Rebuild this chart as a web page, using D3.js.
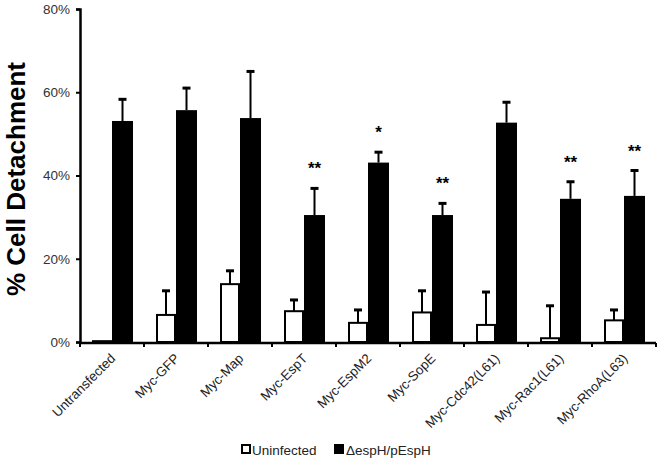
<!DOCTYPE html>
<html>
<head>
<meta charset="utf-8">
<script src="https://cdn.jsdelivr.net/npm/d3@7"></script>
<style>
  html, body { margin: 0; padding: 0; background: #fff; }
  svg { display: block; font-family: "Liberation Sans", Arial, sans-serif; }
</style>
</head>
<body>
<svg id="chart" width="666" height="463"></svg>
<script>
const categories = ["Untransfected", "Myc-GFP", "Myc-Map", "Myc-EspT", "Myc-EspM2", "Myc-SopE", "Myc-Cdc42(L61)", "Myc-Rac1(L61)", "Myc-RhoA(L63)"];
const uninfected = [0.2, 6.5, 13.9, 7.4, 4.6, 7.1, 4.1, 0.9, 5.2];
const uninfectedErr = [0, 5.8, 3.2, 2.7, 3.1, 5.2, 7.9, 7.8, 2.5];
const espH = [53.1, 55.7, 53.8, 30.5, 43.1, 30.5, 52.7, 34.4, 35.1];
const espHErr = [5.2, 5.3, 11.2, 6.4, 2.5, 2.8, 4.9, 4.1, 6.1];
const significance = ["", "", "", "**", "*", "**", "", "**", "**"];
const yTicks = [0, 20, 40, 60, 80];
const seriesNames = ["Uninfected", "\u0394espH/pEspH"];

const svg = d3.select("#chart");
const mLeft = 80, mRight = 656, mTop = 9, mBottom = 342;

const x = d3.scaleBand().domain(categories).range([mLeft, mRight]).padding(0);
const y = d3.scaleLinear().domain([0, 80]).range([mBottom, mTop]);

// Y axis
const yAxis = svg.append("g").attr("transform", `translate(${mLeft},0)`)
  .call(d3.axisLeft(y).tickValues(yTicks).tickFormat(d => d + "%").tickSize(4).tickPadding(6));
yAxis.select(".domain").attr("stroke", "#000").attr("stroke-width", 2.5);
yAxis.selectAll(".tick line").attr("stroke", "#000").attr("stroke-width", 2);
yAxis.selectAll(".tick text").attr("font-size", 13.5).attr("fill", "#333")
  .attr("font-family", "Liberation Sans, Arial, sans-serif");

// Y title
svg.append("text")
  .attr("transform", `translate(25,179) rotate(-90)`)
  .attr("text-anchor", "middle")
  .attr("font-size", 26).attr("font-weight", "bold").attr("fill", "#000")
  .text("% Cell Detachment");

const bw = 20;
const g = svg.append("g");
categories.forEach((c, i) => {
  const cx = x(c) + x.bandwidth() / 2;
  const wx = cx - bw / 2;
  if (uninfectedErr[i] > 0) {
    g.append("line").attr("x1", wx).attr("x2", wx)
      .attr("y1", y(uninfected[i])).attr("y2", y(uninfected[i] + uninfectedErr[i]))
      .attr("stroke", "#000").attr("stroke-width", 2);
    g.append("line").attr("x1", wx - 4).attr("x2", wx + 4)
      .attr("y1", y(uninfected[i] + uninfectedErr[i])).attr("y2", y(uninfected[i] + uninfectedErr[i]))
      .attr("stroke", "#000").attr("stroke-width", 3);
  }
  g.append("rect").attr("x", cx - bw + 1).attr("width", bw - 2)
    .attr("y", y(uninfected[i])).attr("height", y(0) - y(uninfected[i]))
    .attr("fill", "#fff").attr("stroke", "#000").attr("stroke-width", 2);
  const bx = cx + bw / 2 + 0.5;
  g.append("line").attr("x1", bx).attr("x2", bx)
    .attr("y1", y(espH[i])).attr("y2", y(espH[i] + espHErr[i]))
    .attr("stroke", "#000").attr("stroke-width", 2);
  g.append("line").attr("x1", bx - 4).attr("x2", bx + 4)
    .attr("y1", y(espH[i] + espHErr[i])).attr("y2", y(espH[i] + espHErr[i]))
    .attr("stroke", "#000").attr("stroke-width", 3);
  g.append("rect").attr("x", cx).attr("width", bw + 1)
    .attr("y", y(espH[i])).attr("height", y(0) - y(espH[i]))
    .attr("fill", "#000");
  if (significance[i]) {
    g.append("text").attr("x", bx).attr("y", y(espH[i] + espHErr[i]) - 14)
      .attr("text-anchor", "middle").attr("font-size", 17).attr("font-weight", "bold")
      .attr("fill", "#000").text(significance[i]);
  }
});

// X axis
const xAxis = svg.append("g").attr("transform", `translate(0,${mBottom + 1})`);
xAxis.append("line").attr("x1", mLeft - 1).attr("x2", mRight).attr("y1", 0).attr("y2", 0)
  .attr("stroke", "#000").attr("stroke-width", 2.5);
const bounds = categories.map(c => x(c)).concat([mRight]);
xAxis.selectAll("line.tk").data(bounds).enter().append("line")
  .attr("class", "tk").attr("x1", d => d).attr("x2", d => d)
  .attr("y1", 0).attr("y2", 4).attr("stroke", "#000").attr("stroke-width", 2);
xAxis.selectAll("text").data(categories).enter().append("text")
  .attr("transform", c => `translate(${x(c) + x.bandwidth() / 2 + 1},${13}) rotate(-45)`)
  .attr("text-anchor", "end").attr("dy", "0.35em")
  .attr("font-size", 13.3).attr("fill", "#222")
  .text(c => c);

// Legend
const lg = svg.append("g");
lg.append("rect").attr("x", 242).attr("y", 445).attr("width", 8).attr("height", 8)
  .attr("fill", "#fff").attr("stroke", "#000").attr("stroke-width", 2);
lg.append("text").attr("x", 252).attr("y", 455).attr("font-size", 13.5).attr("fill", "#222").text(seriesNames[0]);
lg.append("rect").attr("x", 334).attr("y", 444).attr("width", 10).attr("height", 10).attr("fill", "#000");
lg.append("text").attr("x", 346).attr("y", 455).attr("font-size", 13.5).attr("fill", "#222").text(seriesNames[1]);
</script>
</body>
</html>
